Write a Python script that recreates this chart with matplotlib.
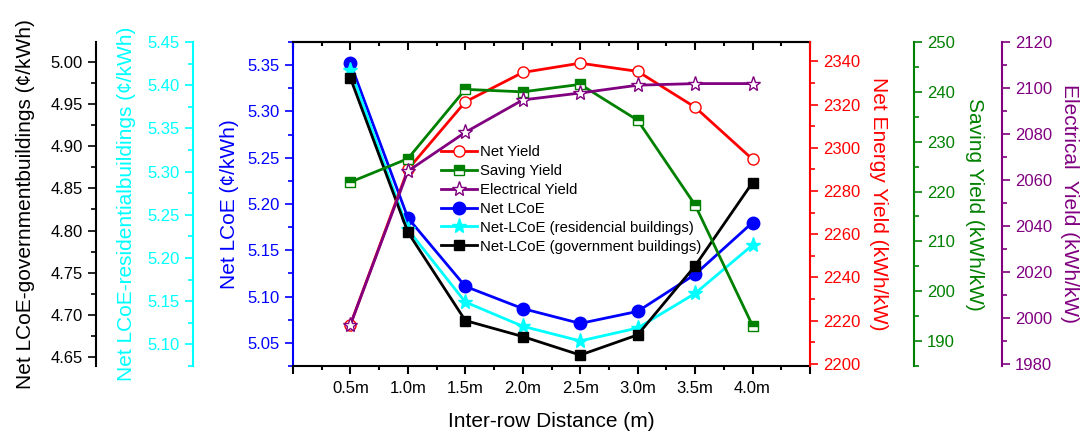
import matplotlib
matplotlib.use('Agg')
from matplotlib import pyplot as plt
from matplotlib.ticker import MultipleLocator

plt.rcParams['font.family'] = ['Liberation Sans', 'DejaVu Sans']

distance = [0.5, 1.0, 1.5, 2.0, 2.5, 3.0, 3.5, 4.0]
distance_labels = ['0.5m', '1.0m', '1.5m', '2.0m', '2.5m', '3.0m', '3.5m', '4.0m']

net_yield = [2218.2, 2290.0, 2321.3, 2334.9, 2339.2, 2335.4, 2318.8, 2294.7]
saving_yield = [221.9, 226.6, 240.5, 240.0, 241.5, 234.3, 217.3, 193.1]
electrical_yield = [1997.0, 2063.8, 2080.7, 2094.8, 2097.8, 2101.2, 2101.9, 2101.9]
net_lcoe = [5.352, 5.185, 5.111, 5.087, 5.071, 5.084, 5.124, 5.180]
lcoe_residential = [5.418, 5.233, 5.149, 5.121, 5.104, 5.119, 5.159, 5.215]
lcoe_government = [4.981, 4.798, 4.693, 4.674, 4.652, 4.676, 4.758, 4.857]

BLUE = '#0000ff'
CYAN = '#00ffff'
RED = '#ff0000'
GREEN = '#008000'
PURPLE = '#800080'

fig = plt.figure(figsize=(10.84, 4.34), dpi=100)
ax = fig.add_axes([293 / 1084, 1 - 366 / 434, (810 - 293) / 1084, (366 - 42) / 434])


def px(n):
    # pixel distance -> points at 100 dpi
    return n * 0.72


def style_axis(a, side, color, major, minor, lo, hi, label, offset=0):
    a.set_ylim(lo, hi)
    a.yaxis.set_major_locator(MultipleLocator(major))
    a.yaxis.set_minor_locator(MultipleLocator(minor))
    a.yaxis.set_ticks_position(side)
    a.yaxis.set_label_position(side)
    for s in a.spines.values():
        s.set_visible(False)
    sp = a.spines[side]
    sp.set_visible(True)
    sp.set_color(color)
    sp.set_linewidth(1.5)
    if offset:
        sp.set_position(('outward', px(offset)))
    a.tick_params(axis='y', which='both', colors=color, labelsize=12, direction='out')
    a.tick_params(axis='y', which='major', length=6, width=1.2)
    a.tick_params(axis='y', which='minor', length=3.5, width=1.2)
    a.set_ylabel(label, color=color, fontsize=15)


# host axes carries the x axis and the Net LCoE scale
xticks = [0, 0.5, 1.0, 1.5, 2.0, 2.5, 3.0, 3.5, 4.0, 4.5]
ax.set_xlim(0, 4.5)
ax.set_xticks(xticks)
ax.set_xticklabels([''] + distance_labels + [''])
ax.xaxis.set_minor_locator(MultipleLocator(0.25))
ax.tick_params(axis='x', which='both', labelsize=12, direction='out', width=1.5, pad=5)
ax.tick_params(axis='x', which='major', length=6)
ax.tick_params(axis='x', which='minor', length=3)
ax.set_xlabel('Inter-row Distance (m)', fontsize=15, labelpad=11)

# mirrored ticks on the top edge point inward
top = ax.secondary_xaxis('top')
top.set_xticks(xticks)
top.xaxis.set_minor_locator(MultipleLocator(0.25))
top.tick_params(axis='x', which='both', direction='in', width=1.5, labeltop=False)
top.tick_params(axis='x', which='major', length=6)
top.tick_params(axis='x', which='minor', length=3)
top.spines['top'].set_linewidth(1.5)

style_axis(ax, 'left', BLUE, 0.05, 0.025, 5.025, 5.375, 'Net LCoE (¢/kWh)')
ax.spines['top'].set_visible(True)
ax.spines['bottom'].set_visible(True)
ax.spines['top'].set_linewidth(1.5)
ax.spines['bottom'].set_linewidth(1.5)
ax.yaxis.set_major_formatter('{x:.2f}')
ax.yaxis.labelpad = 6

ax_res = ax.twinx()
style_axis(ax_res, 'left', CYAN, 0.05, 0.025, 5.075, 5.45,
           'Net LCoE-residentialbuildings (¢/kWh)', offset=100)
ax_res.yaxis.set_major_formatter('{x:.2f}')
ax_res.yaxis.labelpad = 8

ax_gov = ax.twinx()
style_axis(ax_gov, 'left', 'black', 0.05, 0.025, 4.639, 5.024,
           'Net LCoE-governmentbuildings (¢/kWh)', offset=197)
ax_gov.yaxis.set_major_formatter('{x:.2f}')
ax_gov.yaxis.labelpad = 11

ax_net = ax.twinx()
style_axis(ax_net, 'right', RED, 20, 10, 2199, 2349, 'Net Energy Yield (kWh/kW)')
ax_net.yaxis.label.set_rotation(270)
ax_net.yaxis.labelpad = 20

ax_sav = ax.twinx()
style_axis(ax_sav, 'right', GREEN, 10, 5, 185, 250, 'Saving Yield (kWh/kW)', offset=104)
ax_sav.yaxis.label.set_rotation(270)
ax_sav.yaxis.labelpad = 21

ax_ele = ax.twinx()
style_axis(ax_ele, 'right', PURPLE, 20, 10, 1979, 2120, 'Electrical  Yield (kWh/kW)', offset=192)
ax_ele.yaxis.label.set_rotation(270)
ax_ele.yaxis.labelpad = 19

h1, = ax_net.plot(distance, net_yield, color=RED, lw=2, marker='o', ms=8,
                  mfc='white', mec=RED, mew=1, label='Net Yield')
h2, = ax_sav.plot(distance, saving_yield, color=GREEN, lw=2, marker='s', ms=7,
                  fillstyle='top', mfc=GREEN, mfcalt='white', mec=GREEN, mew=1,
                  label='Saving Yield')
h3, = ax_ele.plot(distance, electrical_yield, color=PURPLE, lw=2, marker='*', ms=11,
                  mfc='white', mec=PURPLE, mew=1, label='Electrical Yield')
h4, = ax.plot(distance, net_lcoe, color=BLUE, lw=2, marker='o', ms=9,
              mfc=BLUE, mec=BLUE, label='Net LCoE')
h5, = ax_res.plot(distance, lcoe_residential, color=CYAN, lw=2, marker='*', ms=11,
                  mfc=CYAN, mec=CYAN, label='Net-LCoE (residencial buildings)')
h6, = ax_gov.plot(distance, lcoe_government, color='black', lw=2, marker='s', ms=7,
                  mfc='black', mec='black', label='Net-LCoE (government buildings)')

fig.legend(handles=[h1, h2, h3, h4, h5, h6], loc='upper left',
           bbox_to_anchor=(441 / 1084, 1 - 145 / 434), frameon=False, fontsize=10.75,
           handlelength=2.4, handletextpad=0.2, labelspacing=0.33, borderpad=0,
           borderaxespad=0)

fig.savefig('out.png', dpi=100)
